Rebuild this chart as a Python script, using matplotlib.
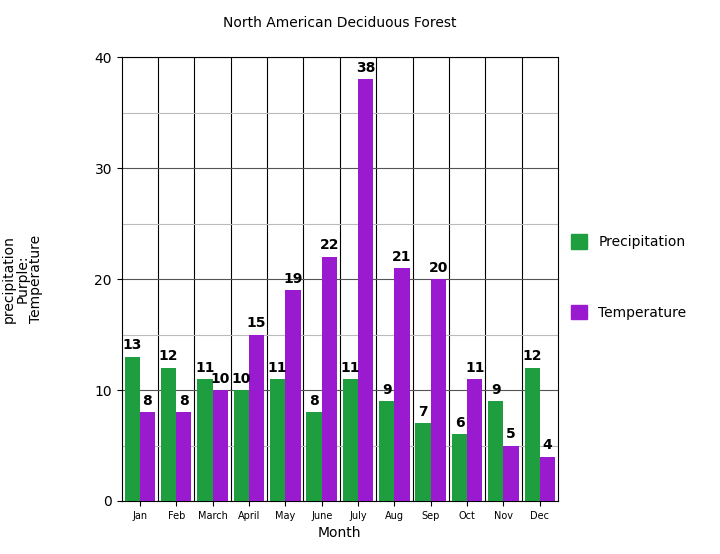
import matplotlib
matplotlib.use("Agg")
import matplotlib.pyplot as plt
import numpy as np
from matplotlib.patches import Patch

months = ["Jan","Feb","March","April","May","June","July","Aug","Sep","Oct","Nov","Dec"]
precip = [13,12,11,10,11,8,11,9,7,6,9,12]
temp = [8,8,10,15,19,22,38,21,20,11,5,4]

fig = plt.figure(figsize=(7.2,5.54), dpi=100)
ax = fig.add_axes([0.169,0.0957,0.606,0.801])
x = np.arange(len(months))
w = 0.42
g = "#1e9e3e"; p = "#9a1ad0"
ax.bar(x-w/2, precip, w, color=g, zorder=3)
ax.bar(x+w/2, temp, w, color=p, zorder=3)
for i in range(len(months)):
    ax.text(x[i]-w/2, precip[i]+0.4, str(precip[i]), ha="center", va="bottom", fontsize=10, fontweight="bold", zorder=4)
    ax.text(x[i]+w/2, temp[i]+0.4, str(temp[i]), ha="center", va="bottom", fontsize=10, fontweight="bold", zorder=4)
ax.set_xlim(-0.5, 11.5)
ax.set_ylim(0, 40)
ax.set_yticks([0,10,20,30,40])
ax.set_yticks([5,15,25,35], minor=True)
ax.grid(axis="y", which="major", color="#555555", lw=0.8, zorder=0)
ax.grid(axis="y", which="minor", color="#bbbbbb", lw=0.8, zorder=0)
for b in np.arange(0.5, 11.5, 1):
    ax.axvline(b, color="black", lw=0.8, zorder=1)
ax.set_xticks(x)
ax.set_xticklabels(months, fontsize=7)
ax.tick_params(axis="y", labelsize=10)
ax.tick_params(axis="both", which="minor", length=0)
ax.set_xlabel("Month", fontsize=10)
ax.set_ylabel("Green:\nprecipitation\nPurple:\nTemperature", fontsize=10, linespacing=0.95)
ax.yaxis.set_label_coords(-0.18, 0.5)
ax.set_title("North American Deciduous Forest", fontsize=10, pad=22)
fig.legend(handles=[Patch(color=g, label="Precipitation"), Patch(color=p, label="Temperature")],
           loc="center left", bbox_to_anchor=(0.775, 0.5), frameon=False, fontsize=10,
           labelspacing=4.0, handlelength=1.2, handleheight=1.2)
fig.savefig("out.png", dpi=100)
